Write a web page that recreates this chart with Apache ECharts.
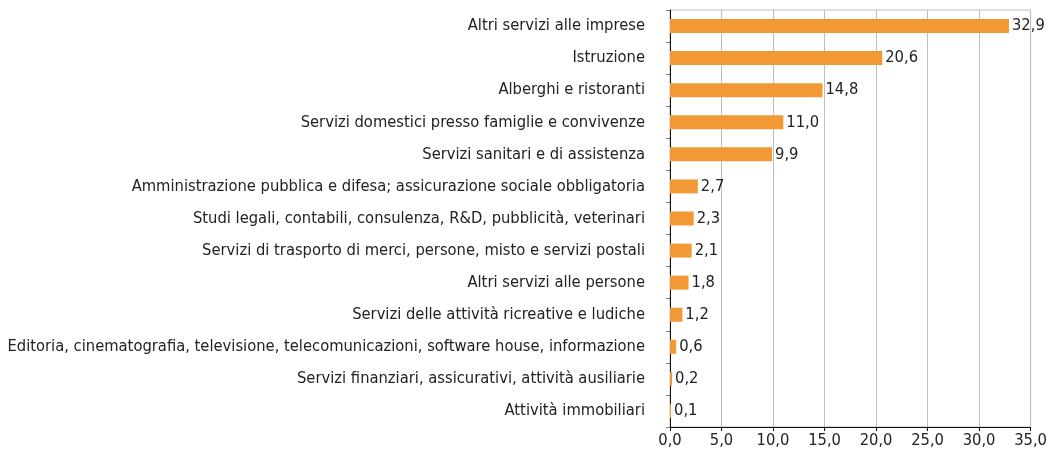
<!DOCTYPE html>
<html>
<head>
<meta charset="utf-8">
<script src="https://cdn.jsdelivr.net/npm/echarts@6/dist/echarts.min.js"></script>
<style>
  html, body { margin: 0; padding: 0; background: #fff; }
  #chart { width: 1050px; height: 450px; }
</style>
</head>
<body>
<div id="chart"></div>
<script>
// Sectors, top to bottom
const categories = [
    "Altri servizi alle imprese",
    "Istruzione",
    "Alberghi e ristoranti",
    "Servizi domestici presso famiglie e convivenze",
    "Servizi sanitari e di assistenza",
    "Amministrazione pubblica e difesa; assicurazione sociale obbligatoria",
    "Studi legali, contabili, consulenza, R&D, pubblicità, veterinari",
    "Servizi di trasporto di merci, persone, misto e servizi postali",
    "Altri servizi alle persone",
    "Servizi delle attività ricreative e ludiche",
    "Editoria, cinematografia, televisione, telecomunicazioni, software house, informazione",
    "Servizi finanziari, assicurativi, attività ausiliarie",
    "Attività immobiliari"
];
const values = [32.9, 20.6, 14.8, 11.0, 9.9, 2.7, 2.3, 2.1, 1.8, 1.2, 0.6, 0.2, 0.1];

const FONT = '"DejaVu Sans Condensed", "Liberation Sans Narrow", sans-serif';
const fmt = v => v.toFixed(1).replace('.', ',');

const chart = echarts.init(document.getElementById('chart'));
chart.setOption({
    animation: false,
    textStyle: { fontFamily: FONT },
    grid: {
        left: 670, right: 19, top: 10, bottom: 23,
        show: true, borderColor: '#bdbdbd', borderWidth: 1
    },
    xAxis: {
        type: 'value',
        min: 0, max: 35, interval: 5,
        axisLine: { show: true, lineStyle: { color: '#111', width: 1 } },
        axisTick: { show: true, length: 4, lineStyle: { color: '#111' } },
        axisLabel: { color: '#222', fontSize: 16.4, fontFamily: FONT, margin: 6, formatter: fmt },
        splitLine: { show: true, lineStyle: { color: '#bdbdbd', width: 1 } }
    },
    yAxis: {
        type: 'category',
        data: categories,
        inverse: true,
        axisLine: { show: true, lineStyle: { color: '#111', width: 1 } },
        axisTick: { show: true, length: 4, lineStyle: { color: '#777' } },
        axisLabel: { color: '#222', fontSize: 16.4, fontFamily: FONT, margin: 25 },
        splitLine: { show: false }
    },
    series: [{
        type: 'bar',
        data: values,
        barWidth: 14,
        itemStyle: { color: '#F29935' },
        label: {
            show: true, position: 'right', distance: 3,
            color: '#222', fontSize: 16.4, fontFamily: FONT,
            formatter: p => fmt(p.value)
        }
    }]
});
</script>
</body>
</html>
